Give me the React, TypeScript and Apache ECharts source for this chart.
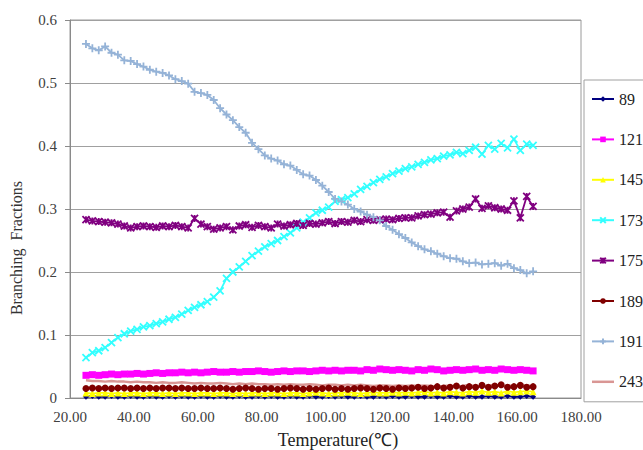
import React, { useEffect, useRef } from "react";
import * as echarts from "echarts";

const temps = [
  25, 27, 29, 31, 33, 35, 37, 39, 41, 43,
  45, 47, 49, 51, 53, 55, 57, 59, 61, 63,
  65, 67, 69, 71, 73, 75, 77, 79, 81, 83,
  85, 87, 89, 91, 93, 95, 97, 99, 101, 103,
  105, 107, 109, 111, 113, 115, 117, 119, 121, 123,
  125, 127, 129, 131, 133, 135, 137, 139, 141, 143,
  145, 147, 149, 151, 153, 155, 157, 159, 161, 163,
  165,
];

const s89 = [
  0.002, 0.003, 0.002, 0.002, 0.003, 0.002, 0.002, 0.003, 0.002, 0.002,
  0.003, 0.002, 0.002, 0.003, 0.002, 0.003, 0.002, 0.002, 0.003, 0.002,
  0.002, 0.003, 0.002, 0.002, 0.003, 0.002, 0.002, 0.003, 0.002, 0.003,
  0.002, 0.002, 0.003, 0.002, 0.002, 0.003, 0.002, 0.002, 0.003, 0.002,
  0.003, 0.002, 0.002, 0.003, 0.002, 0.002, 0.003, 0.002, 0.003, 0.002,
  0.002, 0.003, 0.002, 0.002, 0.003, 0.002, 0.002, 0.003, 0.002, 0.002,
  0.003, 0.002, 0.002, 0.003, 0.002, 0.002, 0.003, 0.002, 0.002, 0.003,
  0.002,
];

const s121 = [
  0.036, 0.037, 0.036, 0.037, 0.038, 0.037, 0.038, 0.038, 0.039, 0.038,
  0.039, 0.040, 0.039, 0.040, 0.040, 0.041, 0.040, 0.041, 0.040, 0.041,
  0.042, 0.041, 0.041, 0.042, 0.041, 0.042, 0.042, 0.043, 0.042, 0.041,
  0.042, 0.043, 0.042, 0.043, 0.043, 0.042, 0.043, 0.044, 0.043, 0.044,
  0.043, 0.044, 0.044, 0.043, 0.045, 0.044, 0.046, 0.045, 0.044, 0.045,
  0.044, 0.043, 0.045, 0.044, 0.046, 0.045, 0.043, 0.044, 0.045, 0.044,
  0.045, 0.046, 0.044, 0.045, 0.044, 0.046, 0.045, 0.044, 0.045, 0.044,
  0.043,
];

const s145 = [
  0.008, 0.007, 0.008, 0.008, 0.007, 0.008, 0.007, 0.008, 0.008, 0.007,
  0.008, 0.008, 0.007, 0.008, 0.007, 0.008, 0.008, 0.007, 0.008, 0.008,
  0.007, 0.008, 0.008, 0.007, 0.008, 0.007, 0.008, 0.008, 0.007, 0.008,
  0.008, 0.007, 0.008, 0.008, 0.007, 0.008, 0.009, 0.008, 0.007, 0.008,
  0.008, 0.009, 0.008, 0.007, 0.008, 0.009, 0.008, 0.008, 0.009, 0.008,
  0.009, 0.008, 0.009, 0.010, 0.008, 0.009, 0.008, 0.010, 0.009, 0.008,
  0.010, 0.009, 0.011, 0.009, 0.010, 0.008, 0.011, 0.009, 0.010, 0.011,
  0.010,
];

const s173 = [
  0.064, 0.072, 0.075, 0.080, 0.088, 0.096, 0.102, 0.106, 0.109, 0.113,
  0.115, 0.118, 0.121, 0.125, 0.128, 0.133, 0.139, 0.144, 0.148, 0.153,
  0.160, 0.170, 0.190, 0.200, 0.208, 0.217, 0.226, 0.233, 0.240, 0.245,
  0.250, 0.256, 0.262, 0.270, 0.279, 0.286, 0.294, 0.298, 0.303, 0.312,
  0.315, 0.318, 0.324, 0.331, 0.336, 0.342, 0.347, 0.351, 0.356, 0.360,
  0.364, 0.367, 0.371, 0.374, 0.378, 0.380, 0.384, 0.386, 0.390, 0.388,
  0.393, 0.398, 0.387, 0.401, 0.395, 0.404, 0.397, 0.411, 0.393, 0.403,
  0.401,
];

const s175 = [
  0.283, 0.281, 0.280, 0.279, 0.278, 0.276, 0.273, 0.270, 0.272, 0.273,
  0.272, 0.271, 0.273, 0.272, 0.274, 0.272, 0.270, 0.285, 0.276, 0.272,
  0.268, 0.270, 0.272, 0.267, 0.273, 0.275, 0.271, 0.274, 0.272, 0.270,
  0.276, 0.273, 0.275, 0.277, 0.274, 0.277, 0.276, 0.278, 0.280, 0.277,
  0.280, 0.279, 0.282, 0.280, 0.283, 0.282, 0.283, 0.284, 0.283, 0.285,
  0.286, 0.286, 0.289, 0.291, 0.292, 0.294, 0.295, 0.287, 0.297, 0.300,
  0.303, 0.316, 0.301, 0.305, 0.302, 0.300, 0.298, 0.313, 0.286, 0.320,
  0.304,
];

const s189 = [
  0.015, 0.016, 0.015, 0.016, 0.015, 0.016, 0.016, 0.015, 0.016, 0.015,
  0.016, 0.015, 0.016, 0.016, 0.015, 0.016, 0.015, 0.015, 0.016, 0.015,
  0.015, 0.016, 0.015, 0.014, 0.015, 0.016, 0.015, 0.014, 0.015, 0.015,
  0.014, 0.015, 0.016, 0.015, 0.014, 0.015, 0.014, 0.015, 0.016, 0.014,
  0.015, 0.014, 0.015, 0.016, 0.015, 0.014, 0.016, 0.015, 0.014, 0.016,
  0.015, 0.016, 0.017, 0.015, 0.016, 0.018, 0.016, 0.017, 0.019, 0.016,
  0.018, 0.017, 0.020, 0.017, 0.019, 0.021, 0.017, 0.018, 0.020, 0.017,
  0.018,
];

const s191 = [
  0.562, 0.555, 0.552, 0.558, 0.548, 0.545, 0.536, 0.535, 0.530, 0.526,
  0.521, 0.518, 0.516, 0.512, 0.506, 0.503, 0.499, 0.486, 0.484, 0.481,
  0.473, 0.460, 0.450, 0.441, 0.430, 0.421, 0.405, 0.395, 0.385, 0.380,
  0.377, 0.371, 0.369, 0.362, 0.355, 0.353, 0.346, 0.337, 0.327, 0.316,
  0.312, 0.307, 0.300, 0.296, 0.291, 0.287, 0.282, 0.273, 0.267, 0.260,
  0.254, 0.247, 0.241, 0.236, 0.233, 0.229, 0.225, 0.222, 0.221, 0.217,
  0.214, 0.215, 0.212, 0.213, 0.214, 0.210, 0.213, 0.206, 0.203, 0.198,
  0.201,
];

const s243 = [
  0.028, 0.027, 0.027, 0.026, 0.027, 0.026, 0.026, 0.025, 0.026, 0.025,
  0.025, 0.024, 0.025, 0.024, 0.024, 0.025, 0.024, 0.023, 0.024, 0.023,
  0.023, 0.024, 0.023, 0.022, 0.023, 0.022, 0.023, 0.022, 0.022, 0.021,
  0.022, 0.021, 0.022, 0.021, 0.021, 0.022, 0.021, 0.020, 0.021, 0.021,
  0.020, 0.021, 0.020, 0.021, 0.020, 0.019, 0.020, 0.020, 0.019, 0.020,
  0.019, 0.020, 0.019, 0.020, 0.019, 0.018, 0.019, 0.020, 0.018, 0.019,
  0.021, 0.018, 0.020, 0.019, 0.021, 0.018, 0.020, 0.019, 0.021, 0.020,
  0.019,
];

const seriesNames = ["89", "121", "145", "173", "175", "189", "191", "243"];
const seriesValues = [s89, s121, s145, s173, s175, s189, s191, s243];
const seriesColors = ["#000080", "#FF00FF", "#FFFF00", "#33FFFF", "#800080", "#800000", "#95B3D7", "#D99694"];

const PLUS = "path://M5,0L5,10M0,5L10,5";
const CROSS = "path://M0,0L10,10M10,0L0,10";
const STAR = "path://M0,0L10,10M10,0L0,10M5,0L5,10";
const BAR = "path://M0,0L22,0L22,2.5L0,2.5Z";

const symbols = ["diamond", "rect", "triangle", CROSS, STAR, "circle", PLUS, "none"];
const symbolSizes = [6, 7, 7, 7, 7, 7, 8, 0];

const FONT = "'Liberation Serif', 'Times New Roman', serif";

export default function App() {
  const ref = useRef<HTMLDivElement>(null);
  useEffect(() => {
    if (!ref.current) return;
    const chart = echarts.init(ref.current, undefined, { renderer: "svg" });
    const series = seriesNames.map((name, k) => ({
      name,
      type: "line",
      data: temps.map((t, i) => [t, seriesValues[k][i]]),
      symbol: symbols[k],
      symbolSize: symbolSizes[k],
      showSymbol: symbols[k] !== "none",
      lineStyle: { color: seriesColors[k], width: name === "243" ? 2.5 : 1.8 },
      itemStyle: {
        color: seriesColors[k],
        borderColor: seriesColors[k],
        borderWidth: k === 3 || k === 4 || k === 6 ? 1.8 : 0,
      },
      emphasis: { disabled: true },
      z: 2,
    }));
    chart.setOption({
      animation: false,
      backgroundColor: "#ffffff",
      textStyle: { fontFamily: FONT },
      grid: {
        left: 70,
        right: 62,
        top: 20,
        bottom: 52,
        show: true,
        borderColor: "#9a9a9a",
        borderWidth: 1,
      },
      xAxis: {
        type: "value",
        min: 20,
        max: 180,
        interval: 20,
        axisLine: { show: true, lineStyle: { color: "#8a8a8a" } },
        axisTick: { show: false },
        splitLine: { show: false },
        axisLabel: {
          fontFamily: FONT,
          fontSize: 15,
          color: "#404040",
          margin: 11,
          formatter: (v: number) => v.toFixed(2),
        },
      },
      yAxis: {
        type: "value",
        min: 0,
        max: 0.6,
        interval: 0.1,
        axisLine: { show: true, lineStyle: { color: "#8a8a8a" } },
        axisTick: { show: true, inside: false, length: 5, lineStyle: { color: "#8a8a8a" } },
        splitLine: { show: true, lineStyle: { color: "#a0a0a0", width: 1 } },
        axisLabel: {
          fontFamily: FONT,
          fontSize: 15,
          color: "#404040",
          margin: 13,
          formatter: (v: number) => (v === 0 ? "0" : v.toFixed(1)),
        },
      },
      legend: {
        orient: "vertical",
        left: 584,
        top: 80,
        data: seriesNames.map((n) => (n === "243" ? { name: n, icon: BAR } : { name: n })),
        itemWidth: 22,
        itemHeight: 7,
        itemGap: 24.4,
        padding: [11, 40, 12, 7],
        backgroundColor: "#ffffff",
        borderColor: "#a0a0a0",
        borderWidth: 1,
        textStyle: { fontFamily: FONT, fontSize: 16, color: "#222" },
        selectedMode: false,
      },
      graphic: [
        {
          type: "text",
          x: 338,
          y: 440,
          style: {
            text: "Temperature(℃)",
            fontFamily: FONT,
            fontSize: 18,
            fill: "#222",
            align: "center",
            verticalAlign: "middle",
          },
        },
        {
          type: "text",
          x: 16,
          y: 248,
          rotation: Math.PI / 2,
          style: {
            text: "Branching  Fractions",
            fontFamily: FONT,
            fontSize: 16,
            fill: "#333",
            align: "center",
            verticalAlign: "middle",
          },
        },
      ],
      series,
    });
    return () => chart.dispose();
  }, []);
  return (
    <div
      ref={ref}
      style={{ position: "absolute", left: 0, top: 0, width: 643, height: 450 }}
    />
  );
}
